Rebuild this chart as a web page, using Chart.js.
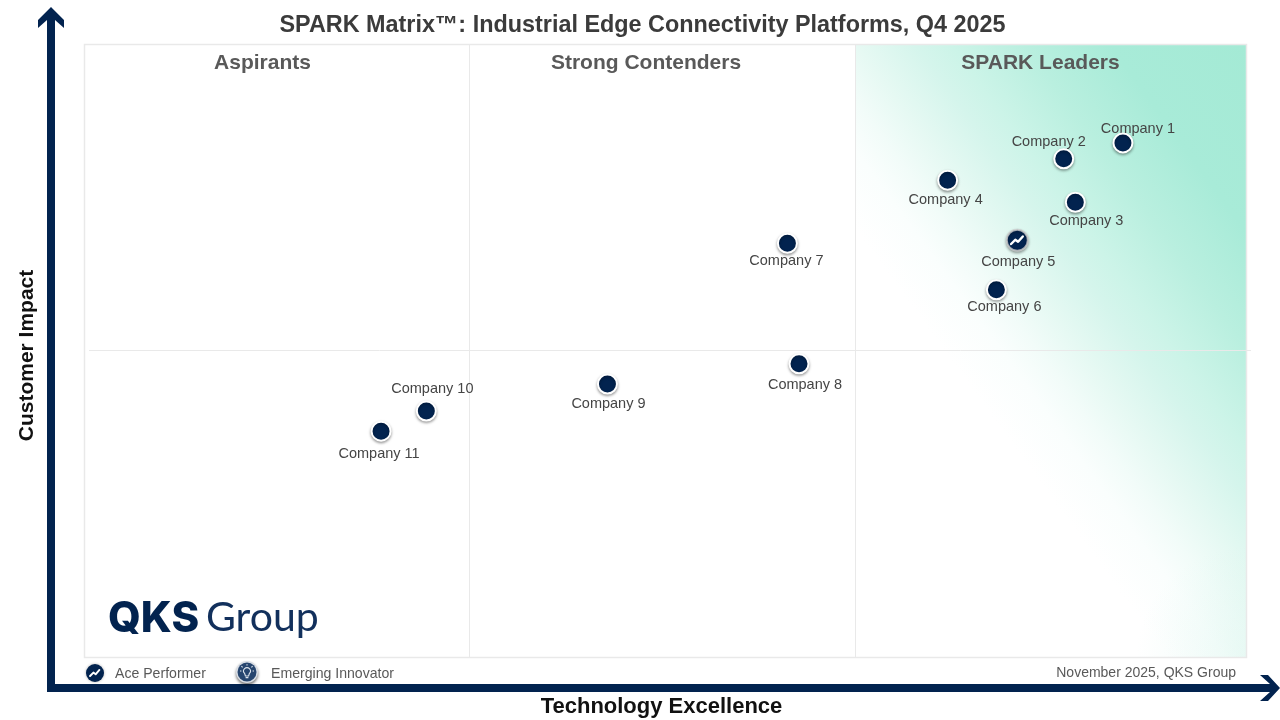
<!DOCTYPE html>
<html>
<head>
<meta charset="utf-8">
<title>SPARK Matrix</title>
<style>
  html, body { margin: 0; padding: 0; background: #fff; }
  canvas { display: block; }
</style>
<script src="https://cdn.jsdelivr.net/npm/chart.js@4/dist/chart.umd.min.js"></script>
</head>
<body>
<canvas id="sparkChart" width="1280" height="720"></canvas>
<script>
// values, both axes on a 0-100 scale
const companies = ["Company 1", "Company 2", "Company 3", "Company 4", "Company 5", "Company 6",
                   "Company 7", "Company 8", "Company 9", "Company 10", "Company 11"];
const techScores = [89.4, 84.3, 85.3, 74.3, 80.3, 78.5, 60.5, 61.5, 45.0, 29.4, 25.5];
const impactScores = [84.0, 81.4, 74.3, 77.9, 68.1, 60.0, 67.6, 47.9, 44.6, 40.2, 36.9];
const acePerformers = ["Company 5"];

const quadrants = ["Aspirants", "Strong Contenders", "SPARK Leaders"];
const xDividers = [33.16, 66.4];
const yDividers = [50];

// where text sits, apart from the data
const quadrantX = [262.5, 646, 1040.5];
const labelDx = [15, -15, 11, -2, 1, 8, -1, 6, 1, 6, -2];
const labelDy = [-14, -17, 19, 20, 22, 17, 18, 21, 20, -22, 23];

const NAVY = "#02234f";
const FONT = '"Liberation Sans", Arial, sans-serif';

function drawText(ctx, text, x, y, font, color, align) {
    ctx.font = font;
    ctx.fillStyle = color;
    ctx.textAlign = align || "center";
    ctx.textBaseline = "middle";
    ctx.fillText(text, x, y);
}

function drawPolygon(ctx, points) {
    ctx.beginPath();
    points.forEach((p, i) => (i ? ctx.lineTo(p[0], p[1]) : ctx.moveTo(p[0], p[1])));
    ctx.closePath();
    ctx.fill();
}

function drawZigzag(ctx, x, y, size) {
    ctx.save();
    ctx.strokeStyle = "#fff";
    ctx.lineWidth = size * 0.24;
    ctx.lineJoin = "round";
    ctx.lineCap = "round";
    ctx.beginPath();
    ctx.moveTo(x - size * 0.62, y + size * 0.38);
    ctx.lineTo(x - size * 0.2, y - size * 0.05);
    ctx.lineTo(x + size * 0.08, y + size * 0.16);
    ctx.lineTo(x + size * 0.55, y - size * 0.38);
    ctx.stroke();
    ctx.restore();
}

function drawBulb(ctx, x, y) {
    ctx.save();
    ctx.strokeStyle = "#dfe6ee";
    ctx.lineWidth = 1.1;
    ctx.beginPath();
    ctx.arc(x, y - 1, 3.4, Math.PI * 0.75, Math.PI * 0.25);
    ctx.lineTo(x + 1.6, y + 4);
    ctx.lineTo(x - 1.6, y + 4);
    ctx.closePath();
    ctx.stroke();
    ctx.beginPath();
    ctx.moveTo(x - 1.4, y + 5.6);
    ctx.lineTo(x + 1.4, y + 5.6);
    [[0, -6.4, 0, -7.8], [-4.4, -4.6, -5.6, -5.8], [4.4, -4.6, 5.6, -5.8], [-5.6, -1, -7, -1], [5.6, -1, 7, -1]]
        .forEach(r => {
            ctx.moveTo(x + r[0], y + r[1]);
            ctx.lineTo(x + r[2], y + r[3]);
        });
    ctx.stroke();
    ctx.restore();
}

const backdropPlugin = {
    id: "backdrop",
    beforeDatasetsDraw(chart) {
        const { ctx, chartArea: area, scales } = chart;
        const left = scales.x.getPixelForValue(xDividers[1]);

        // leaders quadrant wash, a diagonal fade from the top right corner
        ctx.save();
        ctx.beginPath();
        ctx.rect(left, area.top, area.right - left, area.bottom - area.top);
        ctx.clip();
        const wash = ctx.createLinearGradient(area.right, area.top, area.right - 343, area.top + 250);
        wash.addColorStop(0, "#a4ead5");
        wash.addColorStop(0.26, "#a8ebd8");
        wash.addColorStop(0.42, "#b9efdf");
        wash.addColorStop(0.56, "#ccf4e8");
        wash.addColorStop(0.63, "#d5f5ec");
        wash.addColorStop(0.74, "#e6f9f3");
        wash.addColorStop(0.82, "#f2fcf9");
        wash.addColorStop(0.89, "#fafefd");
        wash.addColorStop(1, "#ffffff");
        ctx.fillStyle = wash;
        ctx.fillRect(left, area.top, area.right - left, area.bottom - area.top);
        const corner = ctx.createRadialGradient(area.right, area.bottom, 0, area.right, area.bottom, 110);
        corner.addColorStop(0, "rgba(190,238,224,0.25)");
        corner.addColorStop(1, "rgba(190,238,224,0)");
        ctx.fillStyle = corner;
        ctx.fillRect(left, area.top, area.right - left, area.bottom - area.top);
        ctx.restore();

        // frame and quadrant dividers
        ctx.save();
        ctx.strokeStyle = "#e9e9e9";
        ctx.lineWidth = 1.5;
        ctx.strokeRect(area.left - 0.5, area.top - 0.5, area.right - area.left + 1, area.bottom - area.top + 1);
        ctx.lineWidth = 1;
        ctx.beginPath();
        xDividers.forEach(v => {
            const px = Math.round(scales.x.getPixelForValue(v)) - 0.5;
            ctx.moveTo(px, area.top);
            ctx.lineTo(px, area.bottom);
        });
        yDividers.forEach(v => {
            const py = Math.round(scales.y.getPixelForValue(v)) - 0.5;
            ctx.moveTo(area.left + 4, py);
            ctx.lineTo(area.right + 5, py);
        });
        ctx.stroke();
        ctx.restore();

        // headings
        quadrants.forEach((q, i) => {
            drawText(ctx, q, quadrantX[i], 63, "bold 21px " + FONT, "#595959");
        });
        drawText(ctx, "SPARK Matrix\u2122: Industrial Edge Connectivity Platforms, Q4 2025", 642.5, 26, "bold 23.4px " + FONT, "#3b3b3b");

        // company labels sit under the marks
        const points = chart.getDatasetMeta(0).data;
        companies.forEach((name, i) => {
            drawText(ctx, name, points[i].x + labelDx[i], points[i].y + labelDy[i], "14.5px " + FONT, "#454545");
        });

        // logo
        ctx.textBaseline = "alphabetic";
        ctx.textAlign = "left";
        ctx.fillStyle = NAVY;
        ctx.font = '800 42px Inter, "Liberation Sans", sans-serif';
        ctx.fillText("QKS", 108, 632);
        ctx.fillStyle = "#12305c";
        ctx.font = '400 41px Lato, "Liberation Sans", sans-serif';
        ctx.fillText("Group", 206, 631);
    },
    beforeDatasetDraw(chart) {
        const { ctx } = chart;
        ctx.save();
        ctx.shadowColor = "rgba(0,0,0,0.35)";
        ctx.shadowBlur = 3;
        ctx.shadowOffsetY = 1.5;
    },
    afterDatasetDraw(chart) {
        chart.ctx.restore();
    },
    afterDatasetsDraw(chart) {
        const { ctx } = chart;
        const points = chart.getDatasetMeta(0).data;
        companies.forEach((name, i) => {
            if (acePerformers.includes(name)) drawZigzag(ctx, points[i].x, points[i].y, 10);
        });

        // axis arrows
        ctx.fillStyle = NAVY;
        drawPolygon(ctx, [[51, 7], [64, 20], [64, 28], [55, 20], [55, 684], [1270, 684], [1260, 675], [1268, 675],
            [1280, 688], [1268, 701], [1260, 701], [1270, 692], [47, 692], [47, 20], [38, 28], [38, 20]]);

        drawText(ctx, "Technology Excellence", 661.5, 707, "bold 22px " + FONT, "#111");
        ctx.save();
        ctx.translate(27, 355.5);
        ctx.rotate(-Math.PI / 2);
        drawText(ctx, "Customer Impact", 0, 0, "bold 21px " + FONT, "#111");
        ctx.restore();

        // key
        ctx.save();
        ctx.shadowColor = "rgba(0,0,0,0.3)";
        ctx.shadowBlur = 3;
        ctx.fillStyle = NAVY;
        ctx.beginPath();
        ctx.arc(95, 673, 9, 0, Math.PI * 2);
        ctx.fill();
        ctx.shadowColor = "rgba(0,0,0,0.55)";
        ctx.shadowOffsetY = 2;
        ctx.fillStyle = "#d9dee5";
        ctx.beginPath();
        ctx.arc(247, 672, 11, 0, Math.PI * 2);
        ctx.fill();
        ctx.shadowColor = "transparent";
        ctx.fillStyle = "#27466f";
        ctx.beginPath();
        ctx.arc(247, 672, 9.5, 0, Math.PI * 2);
        ctx.fill();
        ctx.restore();
        drawZigzag(ctx, 95, 673, 8);
        drawBulb(ctx, 247, 672);
        drawText(ctx, "Ace Performer", 115, 674, "14.1px " + FONT, "#595959", "left");
        drawText(ctx, "Emerging Innovator", 271, 674, "14.1px " + FONT, "#595959", "left");
        drawText(ctx, "November 2025, QKS Group", 1236, 673, "14px " + FONT, "#595959", "right");
    }
};

new Chart(document.getElementById("sparkChart"), {
    type: "scatter",
    data: {
        datasets: [{
            label: "Vendors",
            data: techScores.map((x, i) => ({ x, y: impactScores[i] })),
            backgroundColor: NAVY,
            borderColor: c => (acePerformers.includes(companies[c.dataIndex]) ? "rgba(205,205,205,0.8)" : "#fff"),
            borderWidth: 2,
            pointRadius: c => (acePerformers.includes(companies[c.dataIndex]) ? 10.5 : 9.5),
            pointHoverRadius: 9.5
        }]
    },
    options: {
        responsive: false,
        animation: false,
        devicePixelRatio: 1,
        layout: { padding: { left: 85, right: 34, top: 45, bottom: 63 } },
        plugins: { legend: { display: false }, tooltip: { enabled: false } },
        scales: {
            x: { type: "linear", min: 0, max: 100, display: false },
            y: { type: "linear", min: 0, max: 100, display: false }
        }
    },
    plugins: [backdropPlugin]
});
</script>
</body>
</html>
